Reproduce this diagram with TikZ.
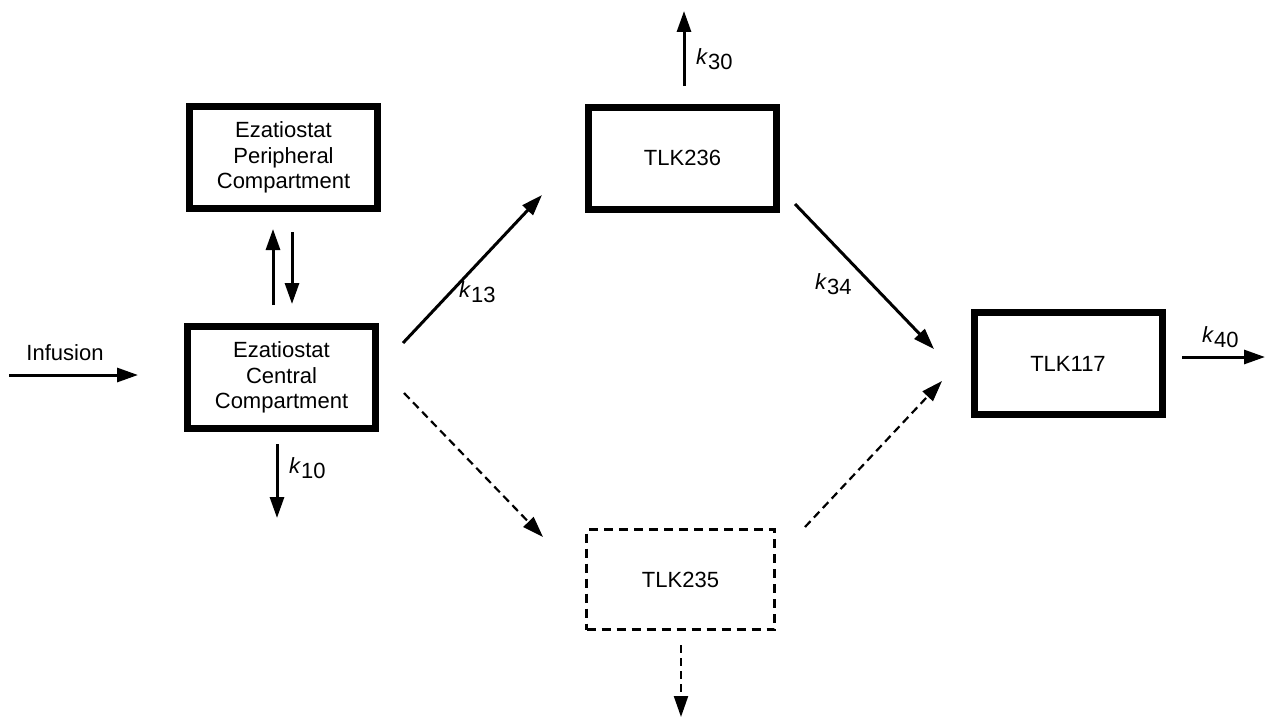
\documentclass[tikz,border=0pt]{standalone}
\usepackage{fontspec}
\setmainfont{Liberation Sans}
\usetikzlibrary{arrows.meta}
\begin{document}
\begin{tikzpicture}[x=1pt,y=-1pt,
  comp/.style={draw,line width=7pt,minimum width=188pt,minimum height=102pt,inner sep=0pt,align=center,font=\fontsize{22}{25.5}\selectfont},
  dcomp/.style={draw,line width=3pt,dash pattern=on 9pt off 6pt,minimum width=188pt,minimum height=100pt,inner sep=0pt,align=center,font=\fontsize{22}{25.5}\selectfont},
  flow/.style={line width=3pt,-{Triangle[length=21pt,width=14pt]}},
  dflow/.style={line width=2.2pt,dash pattern=on 8pt off 5pt,-{Triangle[length=21pt,width=14pt]}},
  lbl/.style={font=\fontsize{22}{25.5}\selectfont,inner sep=0pt}]
\useasboundingbox (0,0) rectangle (1265,717);
\newcommand{\kk}[1]{\textit{k}\raisebox{-5pt}{#1}}
% compartments
\node[comp] (periph) at (283.5,157.5) {Ezatiostat\\Peripheral\\Compartment};
\node[comp] (central) at (281.5,377.5) {Ezatiostat\\Central\\Compartment};
\node[comp] (t236) at (682.5,158) {TLK236};
\node[comp] (t117) at (1068,363.5) {TLK117};
\node[dcomp] (t235) at (680.5,579.5) {TLK235};
% connector end points
\coordinate (infs) at (9,375);
\coordinate (infe) at (138,375);
\coordinate (ups) at (273,305);
\coordinate (upe) at (273,229);
\coordinate (dns) at (292,232);
\coordinate (dne) at (292,304);
\coordinate (k10s) at (277,444);
\coordinate (k10e) at (277,518);
\coordinate (k13s) at (403,343);
\coordinate (k13e) at (542,195);
\coordinate (k30s) at (684,86);
\coordinate (k30e) at (684,11);
\coordinate (k34s) at (795,204);
\coordinate (k34e) at (934,349);
\coordinate (k40s) at (1182,357);
\coordinate (k40e) at (1265,357);
\coordinate (d1s) at (404,393);
\coordinate (d1e) at (543,537);
\coordinate (d2s) at (805,527);
\coordinate (d2e) at (942,381);
\coordinate (d3s) at (681,645);
\coordinate (d3e) at (681,717);
% connectors
\draw[flow] (infs) -- (infe);
\draw[flow] (ups) -- (upe);
\draw[flow] (dns) -- (dne);
\draw[flow] (k10s) -- (k10e);
\draw[flow] (k13s) -- (k13e);
\draw[flow] (k30s) -- (k30e);
\draw[flow] (k34s) -- (k34e);
\draw[flow] (k40s) -- (k40e);
\draw[dflow] (d1s) -- (d1e);
\draw[dflow] (d2s) -- (d2e);
\draw[dflow] (d3s) -- (d3e);
% labels
\node[lbl] (linf) at (65,353) {Infusion};
\node[lbl,anchor=west] (l10) at (289,468) {\kk{10}};
\node[lbl,anchor=west] (l13) at (459,292) {\kk{13}};
\node[lbl,anchor=west] (l30) at (696,59) {\kk{30}};
\node[lbl,anchor=west] (l34) at (815,284) {\kk{34}};
\node[lbl,anchor=west] (l40) at (1202,337) {\kk{40}};
\end{tikzpicture}
\end{document}
